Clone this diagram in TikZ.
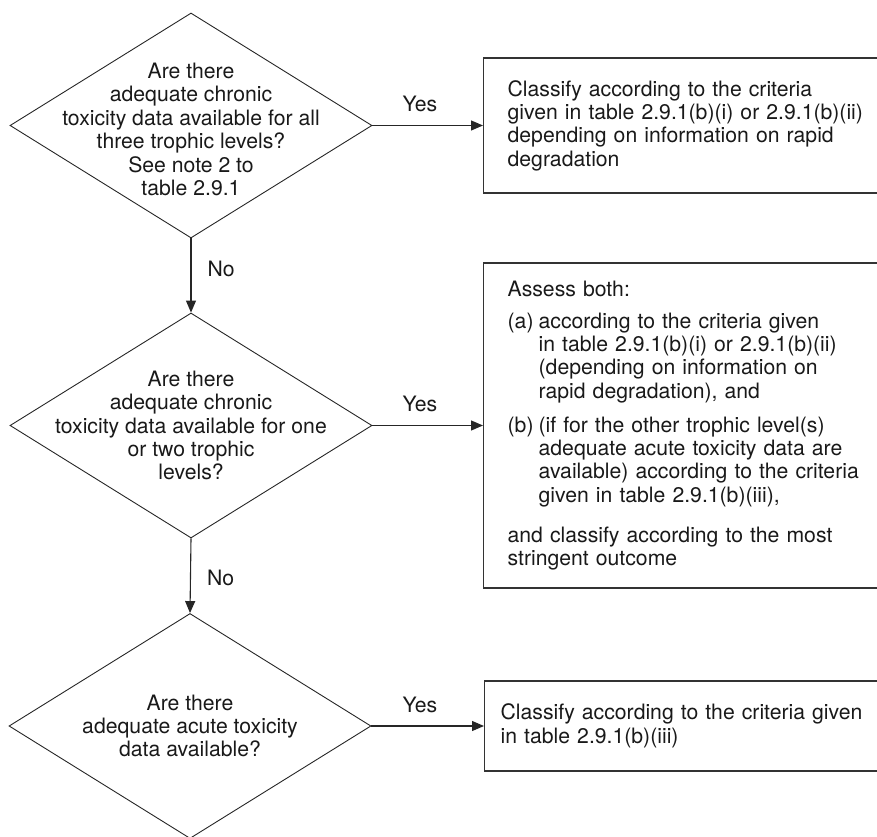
\documentclass[tikz,border=0pt]{standalone}
\usepackage{fontspec}
\setmainfont{TeX Gyre Heros}
\usetikzlibrary{shapes.geometric,arrows.meta}

\newcommand{\itemlbl}[1]{\makebox[31pt][l]{#1}}
\newcommand{\contind}{\hspace*{31pt}}

\tikzset{
  chartfont/.style={font=\fontsize{21.2}{23.4}\selectfont, text=black!90},
  decision/.style={diamond, draw=black!85, line width=0.9pt, inner sep=0pt,
    minimum width=362pt, minimum height=225pt},
  qtext/.style={chartfont, align=center, inner sep=0pt},
  outcome/.style={chartfont, rectangle, draw=black!80, line width=1.3pt, anchor=west,
    align=left, text width=370pt, inner xsep=24pt, inner ysep=0pt},
  flow/.style={-{Triangle[length=12pt,width=10pt]}, line width=1.1pt, draw=black!85},
  lbl/.style={chartfont, inner sep=0pt}
}

\begin{document}
\begin{tikzpicture}[x=1pt, y=1pt]
    \useasboundingbox (0,0) rectangle (877,836);
    \clip (0,0) rectangle (877,836);

    % questions
    \node[decision] (d1) at (191,710.5) {};
    \node[qtext, yshift=-4pt] (q1) at (d1) {Are there\\adequate chronic\\toxicity data available for all\\three trophic levels?\\See note 2 to\\table 2.9.1};

    \node[decision] (d2) at (191,410.5) {};
    \node[qtext] (q2) at (d2) {Are there\\adequate chronic\\toxicity data available for one\\or two trophic\\levels?};

    \node[decision] (d3) at (190,110) {};
    \node[qtext] (q3) at (d3) {Are there\\adequate acute toxicity\\data available?};

    % outcomes
    \node[outcome, minimum height=135pt] (b1) at (483,710.5) {Classify according to the criteria\\given in table 2.9.1(b)(i) or 2.9.1(b)(ii)\\depending on information on rapid\\degradation};

    \node[outcome, minimum height=325pt] (b2) at (483,410.5) {Assess both:\\[8.5pt]
      \itemlbl{(a)}according to the criteria given\\
      \contind in table 2.9.1(b)(i) or 2.9.1(b)(ii)\\
      \contind(depending on information on\\
      \contind rapid degradation), and\\[10.5pt]
      \itemlbl{(b)}(if for the other trophic level(s)\\
      \contind adequate acute toxicity data are\\
      \contind available) according to the criteria\\
      \contind given in table 2.9.1(b)(iii),\\[16.5pt]
      and classify according to the most\\
      stringent outcome};

    \node[outcome, minimum height=90pt, inner xsep=16pt, text width=385pt] (b3) at (484,110) {Classify according to the criteria given\\in table 2.9.1(b)(iii)};

    % connectors
    \draw[flow] (d1.east) -- node[lbl, above=13pt, pos=0.43] (y1) {Yes} (b1.west);
    \draw[flow] (d2.east) -- node[lbl, above=13pt, pos=0.43] (y2) {Yes} (b2.west);
    \draw[flow] (d3.east) -- node[lbl, above=13pt, pos=0.43] (y3) {Yes} (b3.west);

    \draw[flow] (d1.south) -- node[lbl, right=16pt, pos=0.41] (n1) {No} (d2.north);
    \draw[flow] (d2.south) -- node[lbl, right=16pt, pos=0.53] (n2) {No} (d3.north);
\end{tikzpicture}
\end{document}
